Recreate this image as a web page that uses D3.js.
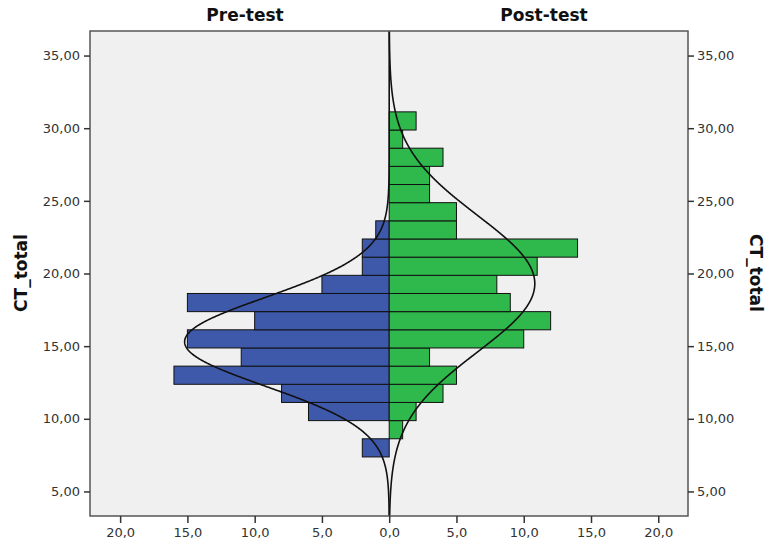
<!DOCTYPE html>
<html><head><meta charset="utf-8">
<script src="https://cdn.jsdelivr.net/npm/d3@7"></script>
<style>body{margin:0;background:#fff}</style></head>
<body><svg id="c" width="768" height="545"></svg>
<script>
// ---- data ----
const binStart = 7.375;
const binWidth = 1.25;
const preCounts  = [2,0,6,8,16,11,15,10,15,5,2,2,1];
const postCounts = [0,1,2,4,5,3,10,12,9,8,11,14,5,5,3,3,4,1,2];
const panelTitles = ["Pre-test","Post-test"];
const yTicks = [5,10,15,20,25,30,35];
const xTicks = [-20,-15,-10,-5,0,5,10,15,20];
const preNormal  = {mean:15.3, sd:3.05};
const postNormal = {mean:19.3, sd:4.7};
const yLabel = "CT_total";

// ---- layout ----
const L = 90, R = 688, T = 31, B = 516;
const svg = d3.select("#c");
const x = d3.scaleLinear().domain([-22.24, 22.21]).range([L, R]);
const y = d3.scaleLinear().domain([3.31, 36.69]).range([B, T]);
const font = "DejaVu Sans";

svg.append("rect").attr("x", L).attr("y", T).attr("width", R-L).attr("height", B-T)
  .attr("fill", "#f0f0f0");

const clip = svg.append("clipPath").attr("id","pc").append("rect")
  .attr("x", L).attr("y", T).attr("width", R-L).attr("height", B-T);

const g = svg.append("g").attr("clip-path","url(#pc)");

function bars(counts, sign, color){
  const data = counts.map((c,i)=>({c, lo: binStart + i*binWidth, hi: binStart + (i+1)*binWidth})).filter(d=>d.c>0);
  g.selectAll(null).data(data).enter().append("rect")
    .attr("x", d => sign<0 ? x(-d.c) : x(0))
    .attr("width", d => Math.abs(x(d.c) - x(0)))
    .attr("y", d => y(d.hi))
    .attr("height", d => y(d.lo) - y(d.hi))
    .attr("fill", color).attr("stroke", "#111").attr("stroke-width", 1);
}
bars(preCounts, -1, "#3e59aa");
bars(postCounts, 1, "#2fb84b");

function curve(counts, p, sign){
  const n = d3.sum(counts);
  const vals = d3.range(y.domain()[0], y.domain()[1] + 0.001, 0.04);
  const pts = vals.map(v => {
    const z = (v - p.mean)/p.sd;
    const c = n*binWidth*Math.exp(-0.5*z*z)/(p.sd*Math.sqrt(2*Math.PI));
    return [x(sign*c), y(v)];
  });
  g.append("path").attr("d", d3.line()(pts)).attr("fill","none")
    .attr("stroke","#111").attr("stroke-width",1.6);
}
curve(preCounts, preNormal, -1);
curve(postCounts, postNormal, 1);

svg.append("rect").attr("x", L).attr("y", T).attr("width", R-L).attr("height", B-T)
  .attr("fill", "none").attr("stroke", "#555").attr("stroke-width", 1.5);

const yFmt = d => d3.format(".2f")(d).replace(".", ",");
const xFmt = d => d3.format(".1f")(Math.abs(d)).replace(".", ",");

function style(ax){
  ax.select(".domain").remove();
  ax.selectAll(".tick line").attr("stroke","#333").attr("stroke-width",1.5);
  ax.selectAll(".tick text").attr("fill","#333").attr("font-family",font).attr("font-size",13);
}
style(svg.append("g").attr("transform",`translate(${L},0)`)
  .call(d3.axisLeft(y).tickValues(yTicks).tickFormat(yFmt).tickSize(6).tickPadding(4)));
style(svg.append("g").attr("transform",`translate(${R},0)`)
  .call(d3.axisRight(y).tickValues(yTicks).tickFormat(yFmt).tickSize(6).tickPadding(3)));
style(svg.append("g").attr("transform",`translate(0,${B})`)
  .call(d3.axisBottom(x).tickValues(xTicks).tickFormat(xFmt).tickSize(7).tickPadding(5)));

// titles
const titleX = [245, 544];
panelTitles.forEach((t,i)=>{
  svg.append("text").attr("x", titleX[i]).attr("y", 21).attr("text-anchor","middle")
    .attr("font-family",font).attr("font-weight","bold").attr("font-size",17).attr("fill","#111").text(t);
});
svg.append("text").attr("transform","translate(27,273) rotate(-90)").attr("text-anchor","middle")
  .attr("font-family",font).attr("font-weight","bold").attr("font-size",17).attr("fill","#111").text(yLabel);
svg.append("text").attr("transform","translate(750,273) rotate(90)").attr("text-anchor","middle")
  .attr("font-family",font).attr("font-weight","bold").attr("font-size",17).attr("fill","#111").text(yLabel);
</script></body></html>
